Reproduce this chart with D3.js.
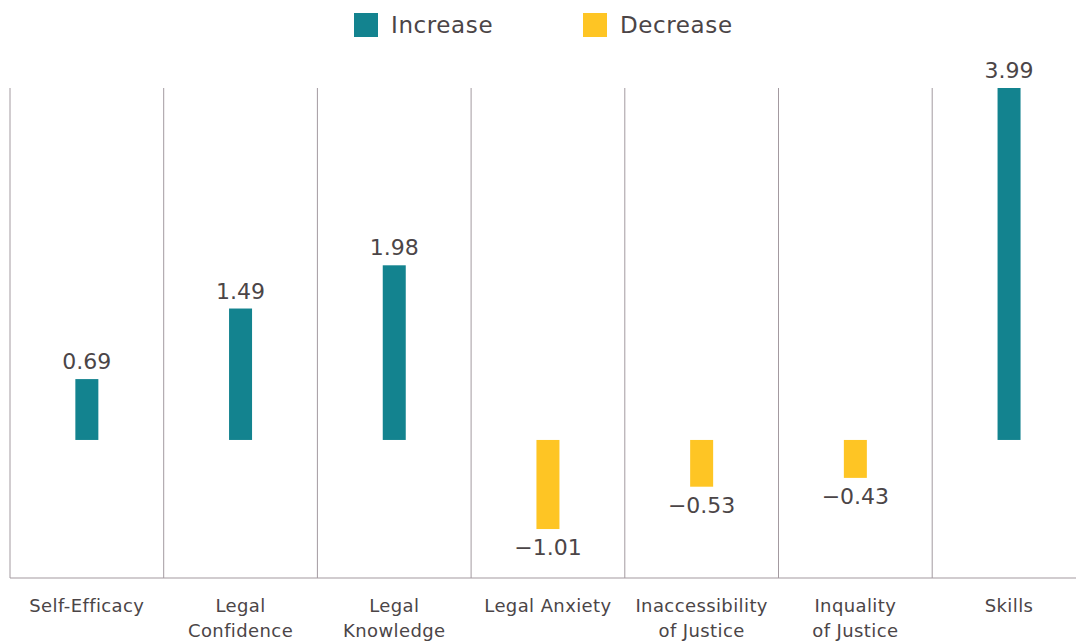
<!DOCTYPE html>
<html lang="en">
<head>
    <meta charset="UTF-8">
    <title>Change in scores</title>
    <script src="https://cdnjs.cloudflare.com/ajax/libs/d3/7.8.5/d3.min.js"></script>
    <style>
        body { margin: 0; background: #fff; }
        text { font-family: "DejaVu Sans", sans-serif; fill: #4b4547; }
    </style>
</head>
<body>
    <div id="wrapper"></div>
    <script>
        const categories = [
            ['Self-Efficacy'],
            ['Legal', 'Confidence'],
            ['Legal', 'Knowledge'],
            ['Legal Anxiety'],
            ['Inaccessibility', 'of Justice'],
            ['Inquality', 'of Justice'],
            ['Skills']
        ]
        const values = [0.69, 1.49, 1.98, -1.01, -0.53, -0.43, 3.99]
        const legendLabels = ['Increase', 'Decrease']
        const colors = { Increase: '#13838f', Decrease: '#fec524' }

        const width = 1076, height = 642
        const svg = d3.select('#wrapper').append('svg')
            .attr('width', width).attr('height', height)

        const names = categories.map(c => c.join(' '))
        const xScale = d3.scaleBand()
            .domain(names)
            .range([10, 10 + 7 * 153.7])
        const yScale = d3.scaleLinear()
            .domain([-1.565, 3.99])
            .range([578, 88])

        // vertical separators
        svg.append('g').selectAll('line')
            .data(names)
            .join('line')
            .attr('x1', d => xScale(d)).attr('x2', d => xScale(d))
            .attr('y1', yScale(3.99)).attr('y2', yScale(-1.565))
            .attr('stroke', '#a39aa0').attr('stroke-width', 1)

        // baseline
        svg.append('line')
            .attr('x1', 10).attr('x2', width)
            .attr('y1', yScale(-1.565)).attr('y2', yScale(-1.565))
            .attr('stroke', '#a39aa0').attr('stroke-width', 1.2)

        const barW = 23
        const cx = d => xScale(d) + xScale.bandwidth() / 2

        svg.append('g').selectAll('rect')
            .data(values)
            .join('rect')
            .attr('x', (d, i) => cx(names[i]) - barW / 2)
            .attr('y', d => yScale(Math.max(0, d)))
            .attr('width', barW)
            .attr('height', d => Math.abs(yScale(d) - yScale(0)))
            .attr('fill', d => d >= 0 ? colors.Increase : colors.Decrease)

        svg.append('g').selectAll('text')
            .data(values)
            .join('text')
            .attr('x', (d, i) => cx(names[i]))
            .attr('y', d => d >= 0 ? yScale(d) - 10 : yScale(d) + 26)
            .attr('text-anchor', 'middle')
            .style('font-size', '22px')
            .text(d => d < 0 ? '\u2212' + Math.abs(d).toFixed(2) : d.toFixed(2))

        // category labels
        const labels = svg.append('g').selectAll('text')
            .data(categories)
            .join('text')
            .attr('x', (d, i) => cx(names[i]))
            .attr('y', 612)
            .attr('text-anchor', 'middle')
            .style('font-size', '18px')
            .style('letter-spacing', '0.4px')
        labels.selectAll('tspan')
            .data(d => d)
            .join('tspan')
            .attr('x', function () { return d3.select(this.parentNode).attr('x') })
            .attr('dy', (d, i) => i === 0 ? 0 : 25)
            .text(d => d)

        // legend
        const legendX = [354, 583]
        const legend = svg.append('g').selectAll('g')
            .data(legendLabels)
            .join('g')
            .attr('transform', (d, i) => `translate(${legendX[i]}, 13)`)
        legend.append('rect')
            .attr('width', 24).attr('height', 24)
            .attr('fill', d => colors[d])
        legend.append('text')
            .attr('x', 37).attr('y', 20)
            .style('font-size', '23px')
            .style('letter-spacing', '0.6px')
            .text(d => d)
    </script>
</body>
</html>
